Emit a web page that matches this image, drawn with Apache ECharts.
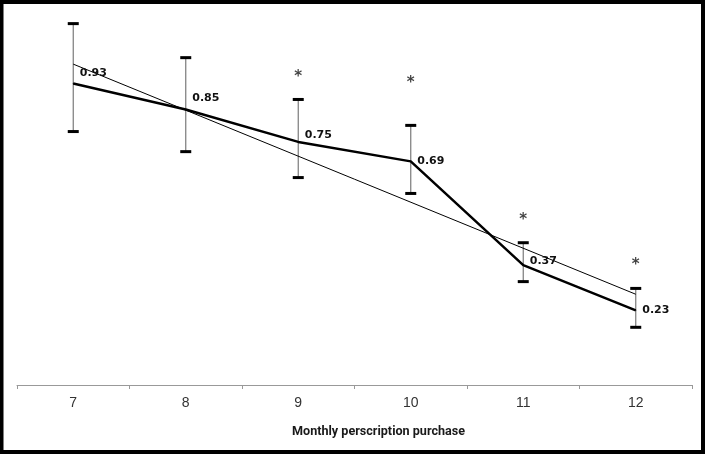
<!DOCTYPE html>
<html>
<head>
<meta charset="utf-8">
<script src="https://cdn.jsdelivr.net/npm/echarts@6/dist/echarts.min.js"></script>
<style>html,body{margin:0;padding:0;background:#fff;}#c{width:709px;height:454px;}</style>
</head>
<body>
<div id="c"></div>
<script>
const categories = ['7', '8', '9', '10', '11', '12'];
const values = [0.93, 0.85, 0.75, 0.69, 0.37, 0.23];
const errLow = [0.782, 0.720, 0.640, 0.591, 0.319, 0.178];
const errHigh = [1.115, 1.010, 0.881, 0.801, 0.439, 0.298];
const trend = [0.99, null, null, null, null, 0.28];
const asterisk = ['-', '-', 0.95, 0.93, 0.51, 0.37];
const axisTitle = 'Monthly perscription purchase';
const labelOffsets = [[0, -10], [0, -11], [0, -7], [0, 0], [0, -4], [0, 0]];

const chart = echarts.init(document.getElementById('c'));
const errData = categories.map((c, i) => [i, errLow[i], errHigh[i]]);
const lineData = values.map((v, i) => ({ value: v, label: { offset: labelOffsets[i] } }));

chart.setOption({
  animation: false,
  backgroundColor: '#fff',
  grid: { left: 17, right: 17, top: 22, bottom: 69 },
  xAxis: {
    type: 'category',
    data: categories,
    boundaryGap: true,
    axisLine: { lineStyle: { color: '#999', width: 1 } },
    axisTick: { show: true, length: 4, lineStyle: { color: '#999' } },
    axisLabel: { color: '#333', fontSize: 14, fontFamily: 'Liberation Sans', margin: 11 }
  },
  yAxis: {
    type: 'value', min: 0, max: 1.12,
    show: false,
    splitLine: { show: false }
  },
  graphic: [{
    type: 'rect',
    shape: { x: 1.5, y: 2, width: 701.5, height: 450 },
    style: { fill: null, stroke: '#000', lineWidth: 4 },
    z: 100
  }, {
    type: 'text',
    left: 292,
    top: 425,
    style: { text: axisTitle, fill: '#1a1a1a', fontSize: 12.6, fontWeight: 'bold', fontFamily: 'Roboto' }
  }],
  series: [
    {
      type: 'custom',
      data: errData,
      z: 1,
      clip: false,
      renderItem: function (params, api) {
        const x = api.value(0);
        const lo = api.coord([x, api.value(1)]);
        const hi = api.coord([x, api.value(2)]);
        const hw = 5.5;
        return {
          type: 'group',
          children: [
            { type: 'line', shape: { x1: lo[0], y1: lo[1], x2: hi[0], y2: hi[1] }, style: { stroke: '#7a7a7a', lineWidth: 1.2 } },
            { type: 'line', shape: { x1: lo[0] - hw, y1: lo[1], x2: lo[0] + hw, y2: lo[1] }, style: { stroke: '#000', lineWidth: 3 } },
            { type: 'line', shape: { x1: hi[0] - hw, y1: hi[1], x2: hi[0] + hw, y2: hi[1] }, style: { stroke: '#000', lineWidth: 3 } }
          ]
        };
      }
    },
    {
      type: 'line',
      data: trend,
      connectNulls: true,
      symbol: 'none',
      z: 2,
      lineStyle: { color: '#000', width: 1 }
    },
    {
      type: 'line',
      data: lineData,
      symbol: 'circle',
      symbolSize: 1,
      z: 3,
      itemStyle: { color: '#000' },
      lineStyle: { color: '#000', width: 2.5 },
      label: {
        show: true,
        position: 'right',
        distance: 6,
        color: '#111',
        fontSize: 11,
        fontWeight: 'bold',
        fontFamily: 'DejaVu Sans',
        formatter: p => p.value.toFixed(2)
      }
    },
    {
      type: 'scatter',
      data: asterisk,
      symbolSize: 0,
      z: 4,
      label: {
        show: true,
        position: 'inside',
        formatter: '*',
        color: '#111',
        fontSize: 15,
        fontWeight: 'bold',
        fontFamily: 'DejaVu Sans'
      }
    }
  ]
});
</script>
</body>
</html>
